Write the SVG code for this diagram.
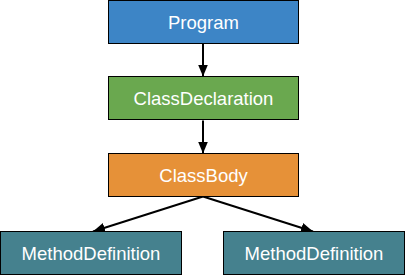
<svg xmlns="http://www.w3.org/2000/svg" width="405" height="275" viewBox="0 0 405 275">
<style>
rect{stroke:#000;stroke-width:1}
text{font-family:"Liberation Sans",Arial,sans-serif;font-size:18.5px;fill:#fff;text-anchor:middle;dominant-baseline:central}
.e{stroke:#000;stroke-width:2;fill:none;marker-end:url(#a)}
</style>
<defs>
<marker id="a" markerUnits="userSpaceOnUse" markerWidth="12" markerHeight="12" viewBox="0 0 12 12" refX="12" refY="6" orient="auto">
<path d="M0,1 L12,6 L0,11 Z" fill="#000"/>
</marker>
</defs>
<g id="edges">
<line class="e" x1="203" y1="43.5" x2="203" y2="76.5"/>
<line class="e" x1="203" y1="120.5" x2="203" y2="153.5"/>
<line class="e" x1="203" y1="196.5" x2="93" y2="231.5"/>
<line class="e" x1="203" y1="196.5" x2="313" y2="231.5"/>
</g>
<g id="program"><rect x="108.5" y="0.5" width="190" height="43" fill="#3d85c6"/><text x="203.5" y="22">Program</text></g>
<g id="classDeclaration"><rect x="108.5" y="76.5" width="190" height="43" fill="#6aa84f"/><text x="203.5" y="98">ClassDeclaration</text></g>
<g id="classBody"><rect x="108.5" y="153.5" width="190" height="43" fill="#e69138"/><text x="203.5" y="175">ClassBody</text></g>
<g id="method1"><rect x="0.5" y="231.5" width="181" height="43" fill="#45818e"/><text x="91" y="253">MethodDefinition</text></g>
<g id="method2"><rect x="223.5" y="231.5" width="181" height="43" fill="#45818e"/><text x="314" y="253">MethodDefinition</text></g>
</svg>
